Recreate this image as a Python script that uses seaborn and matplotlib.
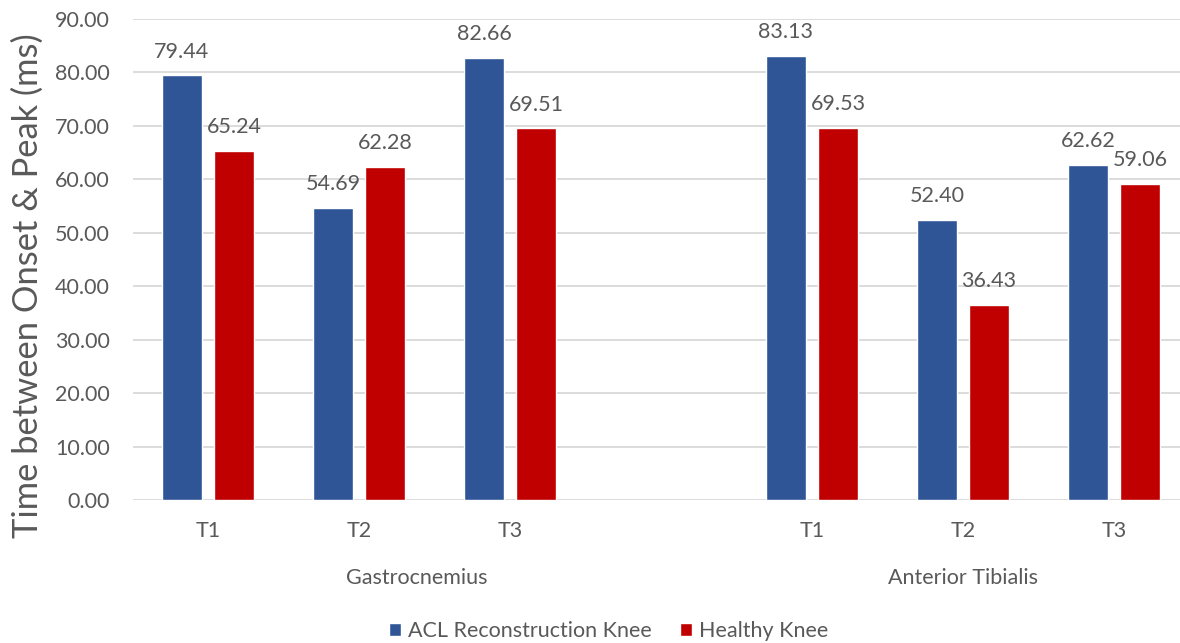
import matplotlib
matplotlib.use("Agg")
import matplotlib.pyplot as plt
import matplotlib.transforms as mtransforms
from matplotlib.patches import Patch
import pandas as pd
import seaborn as sns

# Data
muscles = ["Gastrocnemius", "Anterior Tibialis"]
trials = ["T1", "T2", "T3"]
series = ["ACL Reconstruction Knee", "Healthy Knee"]
acl_values = [79.44, 54.69, 82.66, 83.13, 52.40, 62.62]
healthy_values = [65.24, 62.28, 69.51, 69.53, 36.43, 59.06]

colors = ["#2F5597", "#C00000"]
text_color = "#595959"
fs = 15.5

# Long-form table; a blank slot separates the two muscles
keys = [f"{m}|{t}" for m in muscles for t in trials]
order = keys[:3] + ["blank"] + keys[3:]
tick_labels = trials + [""] + trials
df = pd.DataFrame({
    "key": keys * 2,
    "value": acl_values + healthy_values,
    "series": [series[0]] * 6 + [series[1]] * 6,
})

sns.set_theme(style="white")
plt.rcParams["font.family"] = ["Lato", "DejaVu Sans"]

fig = plt.figure(figsize=(11.8, 6.43), dpi=100)
ax = fig.add_axes([0.1123, 0.2224, 0.8877, 0.7481])

sns.barplot(data=df, x="key", y="value", hue="series", order=order,
            hue_order=series, palette=colors, width=0.69, gap=0.23,
            saturation=1, legend=False, ax=ax)

for cont in ax.containers:
    ax.bar_label(cont, fmt="%.2f", padding=10, fontsize=fs, color=text_color)

ax.set_ylim(0, 90)
ax.set_yticks(range(0, 91, 10))
ax.set_yticklabels([f"{v:.2f}" for v in range(0, 91, 10)])
ax.set_xlim(-0.5, 6.437)
ax.set_xticks(range(len(order)))
ax.set_xticklabels(tick_labels)
ax.tick_params(axis="both", length=0, labelsize=fs, colors=text_color)
ax.tick_params(axis="x", pad=15)
ax.tick_params(axis="y", pad=16.5)
ax.grid(axis="y", color="#D9D9D9", linewidth=1.3)
ax.set_axisbelow(True)
for s in ax.spines.values():
    s.set_visible(False)

ax.set_xlabel("")
ax.set_ylabel("")
fig.text(28 / 1180, 1 - 286 / 643, "Time between Onset & Peak (ms)",
         rotation=90, ha="center", va="center", fontsize=24.8, color=text_color)

# Muscle group labels beneath the trial labels
trans = mtransforms.blended_transform_factory(ax.transData, fig.transFigure)
ax.text(1.38, 1 - 578 / 643, muscles[0], transform=trans, ha="center",
        va="center", fontsize=fs, color=text_color)
ax.text(5.0, 1 - 578 / 643, muscles[1], transform=trans, ha="center",
        va="center", fontsize=fs, color=text_color)

handles = [Patch(facecolor=c, label=l) for c, l in zip(colors, series)]
leg = fig.legend(handles=handles, loc="center", bbox_to_anchor=(0.516, 1 - 631 / 643),
                 ncol=2, frameon=False, fontsize=fs, handlelength=0.55,
                 handleheight=0.55, handletextpad=0.32, columnspacing=1.33)
for t in leg.get_texts():
    t.set_color(text_color)

fig.savefig("out.png", dpi=100)
